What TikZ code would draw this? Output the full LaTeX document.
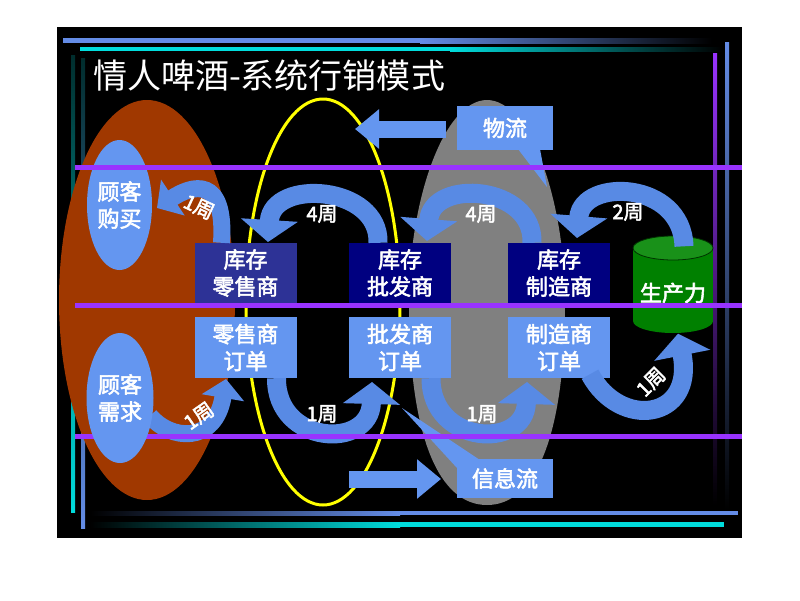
\documentclass[tikz,border=0pt]{standalone}
\usepackage{fontspec}
\setmainfont{Noto Sans CJK SC}
\newfontfamily\bcjk{Noto Sans CJK SC}[FakeBold=2.5]
\usetikzlibrary{arrows.meta,shapes.geometric}
\definecolor{lb}{RGB}{100,150,240}
\definecolor{arr}{RGB}{88,138,228}
\definecolor{navyb}{RGB}{0,0,128}
\definecolor{midb}{RGB}{45,50,150}
\definecolor{brn}{RGB}{160,56,0}
\definecolor{gry}{RGB}{128,128,128}
\definecolor{purp}{RGB}{153,51,255}
\definecolor{grn}{RGB}{0,128,0}
\definecolor{grntop}{RGB}{25,145,25}
\definecolor{cy}{RGB}{0,220,220}
\definecolor{bl}{RGB}{100,140,230}
\definecolor{ylw}{RGB}{255,255,0}
\definecolor{dteal}{RGB}{0,45,45}
\begin{document}
\begin{tikzpicture}[x=1pt,y=-1pt,
  box/.style={minimum width=102pt,minimum height=60pt,inner sep=0pt,align=center,text=white,font=\bcjk\fontsize{22}{27}\selectfont},
  ell/.style={fill=lb,align=center,text=white,font=\bcjk\fontsize{22}{27}\selectfont},
  lab/.style={text=white,font=\bcjk\fontsize{20}{20}\selectfont,inner sep=0pt},
  bigarr/.style={draw=arr,line width=19pt,-{Triangle[length=22pt,width=56pt]}},
  smallarr/.style={draw=arr,line width=17pt,-{Triangle[length=19pt,width=42pt]}},
  strarr/.style={draw=lb,line width=17pt,-{Triangle[length=24pt,width=38pt]}},
  purpline/.style={draw=purp,line width=5pt}]
\useasboundingbox (0,0) rectangle (800,600);
\fill[white] (0,0) rectangle (800,600);
\fill[black] (57,27) rectangle (742,538);
% decorative edge lines
\fill[bl] (63,38) rectangle (420,43);
\shade[left color=bl,right color=black] (420,38) rectangle (712,43);
\fill[cy] (80,47) rectangle (450,51);
\shade[left color=cy,right color=black] (450,47) rectangle (722,51);
\shade[top color=dteal,bottom color=cy] (71,55) rectangle (75,512);
\shade[top color=dteal,bottom color=bl] (81,58) rectangle (85,528);
\shade[top color=purp,bottom color=black] (713,53) rectangle (717,505);
\shade[top color=bl,bottom color=black] (725,42) rectangle (729,510);
\shade[left color=black,right color=bl] (90,511) rectangle (400,515);
\fill[bl] (400,511) rectangle (738,515);
\shade[left color=black,right color=cy] (90,522) rectangle (400,527);
\fill[cy] (400,522) rectangle (724,527);
% title
\node[anchor=west,text=white,font=\fontsize{34}{34}\selectfont,inner sep=0pt] (title) at (93,76) {情人啤酒-系统行销模式};
% big background shapes
\fill[brn] (147,300) ellipse [x radius=88, y radius=200];
\draw[ylw,line width=3pt] (323,302) ellipse [x radius=77, y radius=203];
\fill[gry] (487,100) .. controls (530,100) and (565,200) .. (565,302)
  .. controls (565,440) and (534,505) .. (487,505)
  .. controls (440,505) and (409,440) .. (409,302)
  .. controls (409,200) and (444,100) .. (487,100) -- cycle;
% customer ellipse (top)
\node[ell,ellipse,minimum width=65pt,minimum height=130pt,inner sep=0pt] (buy) at (119.5,205) {顾客\\购买};
% straight flow arrows and callouts
\coordinate (la1) at (446,129);
\coordinate (la2) at (355,129);
\draw[strarr] (la1) -- (la2);
\coordinate (ra1) at (349,479);
\coordinate (ra2) at (441,479);
\draw[strarr] (ra1) -- (ra2);
\fill[lb] (518,149) -- (540,149) -- (547,187) -- cycle;
\fill[lb] (402,408) -- (480,460) -- (457,468) -- cycle;
\node[box,fill=lb,minimum width=96pt,minimum height=44pt] (wl) at (505,128) {物流};
\node[box,fill=lb,minimum width=96pt,minimum height=39pt] (xx) at (505,478.5) {信息流};
% boxes
\node[box,fill=midb] (kr) at (245.5,273) {库存\\零售商};
\node[box,fill=navyb] (kp) at (400,273) {库存\\批发商};
\node[box,fill=navyb] (km) at (559,273) {库存\\制造商};
\node[box,fill=lb,minimum height=61pt] (orr) at (245.5,347.5) {零售商\\订单};
\node[box,fill=lb,minimum height=61pt] (op) at (400,347.5) {批发商\\订单};
\node[box,fill=lb,minimum height=61pt] (om) at (559,347.5) {制造商\\订单};
% cylinder
\fill[grn] (673,321) ellipse [x radius=40, y radius=12];
\fill[grn] (633,248) rectangle (713,321);
\fill[grntop] (673,248) ellipse [x radius=40, y radius=12];
\draw[black!60!grn,line width=0.8pt] (673,248) ellipse [x radius=40, y radius=12];
\node[inner sep=0pt,minimum width=80pt,minimum height=97pt] (cyl) at (673,285) {};
\node[text=white,font=\bcjk\fontsize{22}{22}\selectfont,inner sep=0pt] (prodt) at (673,293) {生产力};
% curved arrows (top: stock flow)
\draw[smallarr] ([xshift=-24pt]kr.north) .. controls (226,175) and (192,185) .. (157,208);
\draw[bigarr] ([xshift=-22pt]kp.north) .. controls (380,185) and (272,178) .. (268,242);
\draw[bigarr] ([xshift=-27pt]km.north) .. controls (534,185) and (432,178) .. (427,241);
\draw[bigarr] ([xshift=11pt,yshift=-10pt]cyl.north) .. controls (682,180) and (582,178) .. (577,238);
% curved arrows (bottom: order flow)
\coordinate (cd) at (150,416);
\draw[smallarr] (cd) .. controls (170,440) and (215,445) .. (226,379);
\draw[bigarr] ([xshift=31pt]orr.south) .. controls (276,445) and (370,450) .. (372,382);
\draw[bigarr] ([xshift=31pt]op.south) .. controls (431,445) and (525,450) .. (527,382);
\draw[bigarr] ([xshift=31pt,yshift=4pt]om.south) .. controls (620,430) and (695,420) .. ([xshift=5pt]cyl.south);
% labels
\node[lab,rotate=-25] (l1) at (199,207) {1周};
\node[lab] (l2) at (322,214) {4周};
\node[lab] (l3) at (481,214) {4周};
\node[lab] (l4) at (628,212) {2周};
\node[lab,rotate=35] (l5) at (199,416) {1周};
\node[lab] (l6) at (322,414) {1周};
\node[lab] (l7) at (482,414) {1周};
\node[lab,rotate=45] (l8) at (651,382) {1周};
% purple lines
\draw[purpline] (75,167) -- (742,167);
\draw[purpline] (75,305) -- (742,305);
\draw[purpline] (75,436) -- (742,436);
\node[ell,ellipse,minimum width=67pt,minimum height=130pt,inner sep=0pt] (need) at (120,398) {顾客\\需求};
\end{tikzpicture}
\end{document}
